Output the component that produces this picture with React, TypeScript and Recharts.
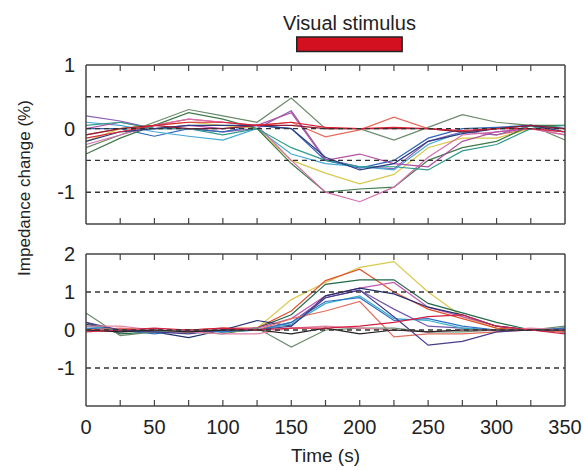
import { LineChart, Line, XAxis, YAxis, ReferenceLine, BarChart, Bar, LabelList } from "recharts";

// sample times (s)
const time = [0, 25, 50, 75, 100, 125, 150, 175, 200, 225, 250, 275, 300, 325, 350];
const labelTicks = [0, 50, 100, 150, 200, 250, 300, 350];

// visual stimulus window (s)
const stimulusStart = 154;
const stimulusEnd = 231;
const stimulusData = [{ name: "stimulus", window: [stimulusStart, stimulusEnd], label: "Visual stimulus" }];

// upper panel (%)
const upGrayGreen = [-0.3, -0.1, 0.1, 0.3, 0.2, 0.1, 0.48, 0.0, 0.0, -0.18, 0.02, 0.22, 0.1, 0.05, -0.18];
const upRed = [-0.15, -0.05, 0.05, 0.1, 0.1, 0.05, 0.1, 0.02, 0.0, 0.02, 0.0, -0.03, 0.0, 0.0, -0.05];
const upSalmon = [-0.1, 0.0, 0.05, 0.15, 0.1, 0.05, 0.1, -0.13, -0.02, 0.18, 0.0, -0.05, -0.1, 0.0, -0.1];
const upPurple = [0.2, 0.12, 0.0, 0.0, -0.05, 0.0, 0.28, -0.48, -0.6, -0.63, -0.2, -0.05, -0.1, 0.05, 0.0];
const upBlue = [0.0, 0.0, -0.12, 0.0, -0.05, 0.05, 0.0, -0.5, -0.62, -0.5, -0.15, 0.0, 0.02, 0.05, 0.0];
const upCyan = [0.1, 0.05, -0.05, -0.12, -0.18, 0.0, -0.4, -0.55, -0.6, -0.65, -0.25, -0.05, 0.0, 0.0, -0.05];
const upYellow = [-0.2, 0.0, 0.05, 0.1, 0.05, 0.0, -0.5, -0.7, -0.87, -0.72, -0.3, -0.15, -0.15, 0.0, 0.0];
const upGreen = [-0.4, -0.15, 0.05, 0.25, 0.15, 0.0, -0.55, -1.0, -0.95, -0.92, -0.5, -0.3, -0.2, 0.05, 0.05];
const upPink = [-0.25, -0.1, 0.05, 0.15, 0.1, 0.05, -0.5, -1.0, -1.15, -0.92, -0.45, -0.1, -0.05, 0.0, -0.1];
const upMagenta = [0.0, 0.1, 0.0, 0.05, 0.0, 0.05, 0.25, -0.5, -0.4, -0.55, -0.6, -0.2, -0.05, 0.0, 0.0];
const upTeal = [0.05, 0.1, 0.0, 0.0, -0.1, 0.0, -0.3, -0.5, -0.6, -0.6, -0.65, -0.35, -0.25, 0.0, 0.05];
const upNavy = [-0.2, -0.05, 0.0, 0.05, 0.05, 0.05, 0.0, -0.45, -0.65, -0.55, -0.2, -0.08, 0.0, 0.05, -0.05];
const upDarkRed = [-0.1, 0.0, 0.05, 0.0, 0.0, 0.05, 0.05, 0.0, 0.0, 0.0, 0.0, -0.05, 0.0, 0.05, 0.0];

// lower panel (%)
const lowYellow = [0.0, -0.05, 0.0, -0.05, 0.0, 0.05, 0.8, 1.25, 1.65, 1.8, 1.0, 0.35, 0.05, 0.0, 0.0];
const lowOrange = [0.0, 0.0, -0.05, 0.0, 0.05, 0.05, 0.5, 1.3, 1.6, 1.0, 0.55, 0.3, 0.05, 0.0, -0.05];
const lowGreen = [0.2, -0.1, -0.05, 0.0, -0.05, 0.05, 0.4, 1.2, 1.32, 1.32, 0.7, 0.45, 0.2, 0.0, 0.05];
const lowMagenta = [0.1, 0.0, -0.05, -0.05, 0.0, 0.05, 0.3, 0.9, 1.1, 1.25, 0.6, 0.35, 0.1, 0.0, 0.0];
const lowNavy = [0.15, 0.0, -0.05, -0.2, 0.0, 0.25, 0.1, 0.9, 1.1, 0.95, 0.6, 0.4, 0.1, 0.0, -0.05];
const lowPurple = [0.0, -0.05, 0.0, -0.05, 0.0, 0.0, 0.2, 0.85, 1.05, 0.55, 0.1, 0.05, 0.0, 0.0, 0.0];
const lowCyan = [0.1, 0.0, -0.05, 0.0, -0.05, 0.0, 0.15, 0.7, 0.9, 0.3, 0.25, 0.05, 0.0, 0.0, 0.05];
const lowBlue = [0.05, 0.0, -0.1, 0.0, -0.05, 0.0, 0.2, 0.75, 0.85, 0.25, 0.3, 0.1, 0.0, 0.0, 0.05];
const lowSalmon = [0.0, 0.05, 0.0, 0.0, 0.0, 0.0, 0.3, 0.5, 0.75, -0.18, -0.1, -0.1, -0.05, 0.0, -0.05];
const lowGrayGreen = [0.45, -0.15, -0.05, -0.05, -0.1, 0.05, -0.45, 0.0, 0.05, 0.05, -0.05, -0.05, 0.0, 0.0, 0.1];
const lowDarkPurple = [0.2, 0.0, -0.05, -0.1, 0.0, 0.0, 0.1, 0.85, 1.05, 0.35, -0.4, -0.3, -0.05, 0.0, 0.0];
const lowRed = [-0.05, 0.0, 0.05, 0.0, 0.05, 0.0, 0.05, 0.05, 0.1, 0.2, 0.35, 0.4, 0.1, 0.0, -0.1];
const lowBlack = [0.0, -0.05, 0.0, -0.05, 0.0, 0.0, -0.1, 0.05, -0.1, 0.0, -0.05, 0.0, 0.0, 0.0, 0.0];
const lowPink = [0.1, 0.1, 0.0, -0.05, -0.1, -0.1, 0.05, 0.1, 0.05, 0.0, -0.05, 0.0, 0.0, 0.05, 0.0];

const upperSeries = [
  { name: "grayGreen", values: upGrayGreen, color: "#6b8a6b" },
  { name: "salmon", values: upSalmon, color: "#e86a5c" },
  { name: "purple", values: upPurple, color: "#8a5cb4" },
  { name: "blue", values: upBlue, color: "#2f66b8" },
  { name: "cyan", values: upCyan, color: "#42a8d4" },
  { name: "yellow", values: upYellow, color: "#d9c94a" },
  { name: "green", values: upGreen, color: "#3f7a4a" },
  { name: "pink", values: upPink, color: "#d56cae" },
  { name: "magenta", values: upMagenta, color: "#b24fa2" },
  { name: "teal", values: upTeal, color: "#2f9a8c" },
  { name: "navy", values: upNavy, color: "#2b3b82" },
  { name: "darkRed", values: upDarkRed, color: "#8e1c34" },
  { name: "red", values: upRed, color: "#dc2034" },
];

const lowerSeries = [
  { name: "yellow", values: lowYellow, color: "#d9c94a" },
  { name: "orange", values: lowOrange, color: "#e0522e" },
  { name: "green", values: lowGreen, color: "#226a4a" },
  { name: "magenta", values: lowMagenta, color: "#c258b2" },
  { name: "navy", values: lowNavy, color: "#22306e" },
  { name: "purple", values: lowPurple, color: "#7258aa" },
  { name: "cyan", values: lowCyan, color: "#32b0c8" },
  { name: "blue", values: lowBlue, color: "#3070c0" },
  { name: "salmon", values: lowSalmon, color: "#e26e5e" },
  { name: "grayGreen", values: lowGrayGreen, color: "#6b8a6b" },
  { name: "darkPurple", values: lowDarkPurple, color: "#4a3a8a" },
  { name: "pink", values: lowPink, color: "#e283a4" },
  { name: "black", values: lowBlack, color: "#222222" },
  { name: "red", values: lowRed, color: "#d42042" },
];

const upperDashes = [0.5, 0, -0.5, -1];
const lowerDashes = [1, 0, -1];
const upperTicks = [-1, 0, 1];
const lowerTicks = [-1, 0, 1, 2];

const toRows = (series: { name: string; values: number[] }[]) =>
  time.map((t, i) => {
    const row: Record<string, number> = { t };
    series.forEach((s) => (row[s.name] = s.values[i]));
    return row;
  });

const upperData = toRows(upperSeries);
const lowerData = toRows(lowerSeries);

const FRAME = "#444";
const TEXT = "#222";
const FONT = "'Liberation Sans', Arial, sans-serif";

// tick marks point into the plot; labels only on the bottom axis at multiples of 50
const TimeTick = (props: any) => {
  const { x, y, payload, dir, showLabel } = props;
  const v = payload.value;
  return (
    <g>
      {v > 0 && v < 350 && (
        <line x1={x} x2={x} y1={y} y2={y + dir * 6} stroke={FRAME} strokeWidth={1.2} />
      )}
      {showLabel && labelTicks.includes(v) && (
        <text x={x} y={y + 28} textAnchor="middle" fontSize={20} fill={TEXT} fontFamily={FONT}>
          {v}
        </text>
      )}
    </g>
  );
};

const Panel = ({ data, series, domain, ticks, dashes, height, margin, showLabels }: any) => (
  <LineChart width={585} height={height} data={data} margin={margin}>
    <XAxis
      dataKey="t"
      type="number"
      domain={[0, 350]}
      ticks={time}
      interval={0}
      height={1}
      tickSize={0}
      tickMargin={0}
      tickLine={false}
      axisLine={{ stroke: FRAME, strokeWidth: 1.5 }}
      tick={<TimeTick dir={-1} showLabel={showLabels} />}
      label={
        showLabels
          ? { value: "Time (s)", position: "bottom", offset: 42, fontSize: 19, fill: TEXT, fontFamily: FONT }
          : undefined
      }
    />
    <XAxis
      xAxisId="top"
      dataKey="t"
      orientation="top"
      type="number"
      domain={[0, 350]}
      ticks={time}
      interval={0}
      height={1}
      tickSize={0}
      tickMargin={0}
      tickLine={false}
      axisLine={{ stroke: FRAME, strokeWidth: 1.5 }}
      tick={<TimeTick dir={1} showLabel={false} />}
    />
    <YAxis
      type="number"
      domain={domain}
      ticks={ticks}
      interval={0}
      width={40}
      tickSize={0}
      tickMargin={11}
      tickLine={false}
      axisLine={{ stroke: FRAME, strokeWidth: 1.5 }}
      tick={{ fontSize: 20, fill: TEXT, fontFamily: FONT }}
      allowDataOverflow
    />
    <YAxis
      yAxisId="right"
      orientation="right"
      type="number"
      domain={domain}
      width={1}
      tick={false}
      tickLine={false}
      axisLine={{ stroke: FRAME, strokeWidth: 1.5 }}
    />
    {series.map((s: any) => (
      <Line
        key={s.name}
        dataKey={s.name}
        stroke={s.color}
        strokeWidth={1.2}
        dot={false}
        type="linear"
        isAnimationActive={false}
      />
    ))}
    {dashes.map((d: number) => (
      <ReferenceLine key={d} y={d} stroke="#333" strokeDasharray="5 4" strokeWidth={1.4} />
    ))}
  </LineChart>
);

export default function App() {
  return (
    <div
      style={{
        position: "absolute",
        left: 0,
        top: 0,
        width: 585,
        height: 470,
        background: "#fff",
        fontFamily: FONT,
      }}
    >
      <div style={{ position: "absolute", left: 0, top: 0 }}>
        <BarChart
          width={585}
          height={60}
          layout="vertical"
          data={stimulusData}
          margin={{ top: 36, right: 20, bottom: 8, left: 86 }}
        >
          <XAxis type="number" domain={[0, 350]} hide />
          <YAxis type="category" dataKey="name" hide width={0} />
          <Bar dataKey="window" fill="#d2101f" stroke="#222" strokeWidth={1.5} barSize={16} isAnimationActive={false}>
            <LabelList dataKey="label" position="top" offset={7} fontSize={20} fill={TEXT} fontFamily={FONT} />
          </Bar>
        </BarChart>
      </div>
      <div style={{ position: "absolute", left: 0, top: 0 }}>
        <Panel
          data={upperData}
          series={upperSeries}
          domain={[-1.5, 1]}
          ticks={upperTicks}
          dashes={upperDashes}
          height={240}
          margin={{ top: 64, right: 19, bottom: 15, left: 46 }}
          showLabels={false}
        />
      </div>
      <div style={{ position: "absolute", left: 0, top: 240 }}>
        <Panel
          data={lowerData}
          series={lowerSeries}
          domain={[-2, 2]}
          ticks={lowerTicks}
          dashes={lowerDashes}
          height={230}
          margin={{ top: 13, right: 19, bottom: 63, left: 46 }}
          showLabels
        />
      </div>
      <svg width={40} height={470} style={{ position: "absolute", left: 0, top: 0 }}>
        <text
          x={26}
          y={188}
          transform="rotate(-90 26 188)"
          textAnchor="middle"
          dominantBaseline="middle"
          fontSize={17}
          fill={TEXT}
          fontFamily={FONT}
        >
          Impedance change (%)
        </text>
      </svg>
    </div>
  );
}
